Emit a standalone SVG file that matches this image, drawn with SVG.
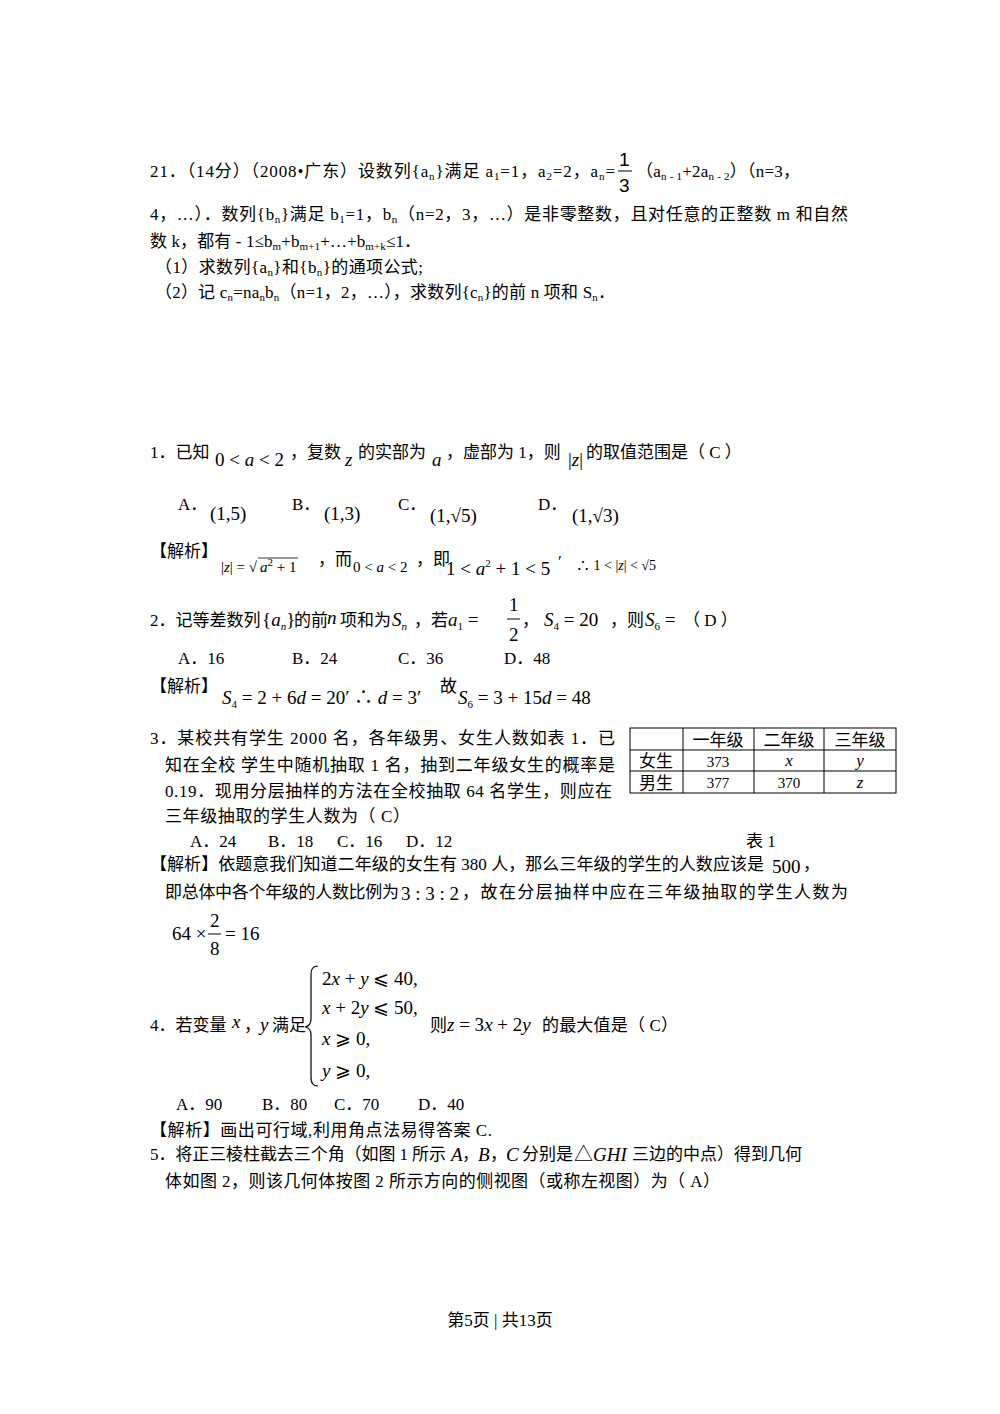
<svg xmlns="http://www.w3.org/2000/svg" width="1000" height="1414" viewBox="0 0 1000 1414">
<style>
text{font-family:"Liberation Serif","Noto Sans CJK SC",serif;font-size:17px;fill:#000}
.i{font-style:italic}
.s{font-size:11px}
.m{font-size:19px}
</style>
<rect width="1000" height="1414" fill="#fff"/>
<g id="q21">
<text x="150" y="177" textLength="465" lengthAdjust="spacing">21．（14分）（2008•广东）设数列{a<tspan class="s" dy="3">n</tspan><tspan dy="-3">}满足 a</tspan><tspan class="s" dy="3">1</tspan><tspan dy="-3">=1，a</tspan><tspan class="s" dy="3">2</tspan><tspan dy="-3">=2，a</tspan><tspan class="s" dy="3">n</tspan><tspan dy="-3">=</tspan></text>
<text x="619" y="166" style="font-family:'Liberation Sans',sans-serif;font-size:19px">1</text>
<line x1="618" y1="171" x2="632" y2="171" stroke="#000" stroke-width="1"/>
<text x="619" y="192" style="font-family:'Liberation Sans',sans-serif;font-size:19px">3</text>
<text x="636" y="177" textLength="164" lengthAdjust="spacing">（a<tspan class="s" dy="3">n - 1</tspan><tspan dy="-3">+2a</tspan><tspan class="s" dy="3">n - 2</tspan><tspan dy="-3">）（n=3，</tspan></text>
<text x="150" y="220" textLength="698" lengthAdjust="spacing">4，…）．数列{b<tspan class="s" dy="3">n</tspan><tspan dy="-3">}满足 b</tspan><tspan class="s" dy="3">1</tspan><tspan dy="-3">=1，b</tspan><tspan class="s" dy="3">n</tspan><tspan dy="-3">（n=2，3，…）是非零整数，且对任意的正整数 m 和自然</tspan></text>
<text x="150" y="247" textLength="271" lengthAdjust="spacing">数 k，都有 - 1≤b<tspan class="s" dy="3">m</tspan><tspan dy="-3">+b</tspan><tspan class="s" dy="3">m+1</tspan><tspan dy="-3">+…+b</tspan><tspan class="s" dy="3">m+k</tspan><tspan dy="-3">≤1．</tspan></text>
<text x="155" y="273" textLength="268" lengthAdjust="spacing">（1）求数列{a<tspan class="s" dy="3">n</tspan><tspan dy="-3">}和{b</tspan><tspan class="s" dy="3">n</tspan><tspan dy="-3">}的通项公式;</tspan></text>
<text x="155" y="298" textLength="460" lengthAdjust="spacing">（2）记 c<tspan class="s" dy="3">n</tspan><tspan dy="-3">=na</tspan><tspan class="s" dy="3">n</tspan><tspan dy="-3">b</tspan><tspan class="s" dy="3">n</tspan><tspan dy="-3">（n=1，2，…），求数列{c</tspan><tspan class="s" dy="3">n</tspan><tspan dy="-3">}的前 n 项和 S</tspan><tspan class="s" dy="3">n</tspan><tspan dy="-3">．</tspan></text>
</g>
<g id="q1">
<text x="150" y="458">1．已知</text>
<text x="215" y="466" class="m">0 &lt; <tspan class="i">a</tspan> &lt; 2</text>
<text x="290" y="458">，复数</text>
<text x="345" y="466" class="m i">z</text>
<text x="358" y="458">的实部为</text>
<text x="432" y="466" class="m i">a</text>
<text x="446" y="458">，虚部为 1，则</text>
<text x="568" y="466" class="m">|<tspan class="i">z</tspan>|</text>
<text x="586" y="458">的取值范围是（ C ）</text>
<text x="178" y="510">A．</text><text x="210" y="520" class="m">(1,5)</text>
<text x="292" y="510">B．</text><text x="324" y="520" class="m">(1,3)</text>
<text x="398" y="510">C．</text><text x="430" y="522" class="m">(1,√5)</text>
<text x="538" y="510">D．</text><text x="572" y="522" class="m">(1,√3)</text>
<text x="150" y="557">【解析】</text>
<text x="221" y="572" style="font-size:15px">|<tspan class="i">z</tspan>| = √</text>
<line x1="258" y1="558" x2="298" y2="558" stroke="#000" stroke-width="0.8"/>
<text x="260" y="572" style="font-size:15px"><tspan class="i">a</tspan><tspan class="s" dy="-6">2</tspan><tspan dy="6"> + 1</tspan></text>
<text x="318" y="565">，而</text>
<text x="353" y="572" style="font-size:15px">0 &lt; <tspan class="i">a</tspan> &lt; 2</text>
<text x="416" y="565">，即</text>
<text x="446" y="575" class="m">1 &lt; <tspan class="i">a</tspan><tspan class="s" dy="-8">2</tspan><tspan dy="8"> + 1 &lt; 5</tspan></text>
<text x="558" y="567">′</text>
<text x="576" y="570" style="font-size:14px">∴ 1 &lt; |<tspan class="i">z</tspan>| &lt; √5</text>
</g>
<g id="q2">
<text x="150" y="626">2．记等差数列</text>
<text x="262" y="626" class="m">{<tspan class="i">a</tspan><tspan class="s i" dy="4">n</tspan><tspan dy="-4">}</tspan></text>
<text x="294" y="626">的前</text>
<text x="327" y="624" class="m i">n</text>
<text x="340" y="626">项和为</text>
<text x="392" y="626" class="m i">S<tspan class="s" dy="4">n</tspan></text>
<text x="414" y="626">，若</text>
<text x="448" y="626" class="m"><tspan class="i">a</tspan><tspan class="s" dy="4">1</tspan><tspan dy="-4"> = </tspan></text>
<text x="509" y="611" class="m">1</text>
<line x1="507" y1="619" x2="520" y2="619" stroke="#000"/>
<text x="509" y="641" class="m">2</text>
<text x="522" y="626">，</text>
<text x="544" y="626" class="m"><tspan class="i">S</tspan><tspan class="s" dy="4">4</tspan><tspan dy="-4"> = 20</tspan></text>
<text x="610" y="626">，则</text>
<text x="645" y="626" class="m"><tspan class="i">S</tspan><tspan class="s" dy="4">6</tspan><tspan dy="-4"> =</tspan></text>
<text x="683" y="626">（ D ）</text>
<text x="178" y="664">A．16</text>
<text x="292" y="664">B．24</text>
<text x="398" y="664">C．36</text>
<text x="504" y="664">D．48</text>
<text x="150" y="692">【解析】</text>
<text x="222" y="704" class="m"><tspan class="i">S</tspan><tspan class="s" dy="4">4</tspan><tspan dy="-4"> = 2 + 6</tspan><tspan class="i">d</tspan> = 20′  ∴ <tspan class="i">d</tspan> = 3′</text>
<text x="440" y="692">故</text>
<text x="458" y="704" class="m"><tspan class="i">S</tspan><tspan class="s" dy="4">6</tspan><tspan dy="-4"> = 3 + 15</tspan><tspan class="i">d</tspan> = 48</text>
</g>
<g id="q3">
<text x="150" y="744" textLength="465" lengthAdjust="spacing">3．某校共有学生 2000 名，各年级男、女生人数如表 1．已</text>
<text x="165" y="771" textLength="450" lengthAdjust="spacing">知在全校 学生中随机抽取 1 名，抽到二年级女生的概率是</text>
<text x="165" y="797" textLength="447" lengthAdjust="spacing">0.19．现用分层抽样的方法在全校抽取 64 名学生，则应在</text>
<text x="165" y="822" textLength="245" lengthAdjust="spacing">三年级抽取的学生人数为（ C）</text>
<text x="190" y="847">A．24</text>
<text x="268" y="847">B．18</text>
<text x="337" y="847">C．16</text>
<text x="406" y="847">D．12</text>
<text x="746" y="847">表 1</text>
<text x="150" y="870" textLength="614" lengthAdjust="spacing">【解析】依题意我们知道二年级的女生有 380 人，那么三年级的学生的人数应该是</text>
<text x="772" y="873" class="m">500</text><text x="803" y="870">，</text>
<text x="165" y="898" textLength="234" lengthAdjust="spacing">即总体中各个年级的人数比例为</text>
<text x="401" y="900" class="m">3 : 3 : 2</text>
<text x="462" y="898" textLength="386" lengthAdjust="spacing">，故在分层抽样中应在三年级抽取的学生人数为</text>
<text x="172" y="940" class="m">64 ×</text>
<text x="210" y="927" class="m">2</text>
<line x1="208" y1="934" x2="221" y2="934" stroke="#000"/>
<text x="210" y="955" class="m">8</text>
<text x="225" y="940" class="m">= 16</text>
</g>
<g id="table1" fill="none" stroke="#000" stroke-width="1">
<rect x="630" y="728" width="266" height="65"/>
<line x1="630" y1="750" x2="896" y2="750"/>
<line x1="630" y1="771" x2="896" y2="771"/>
<line x1="683" y1="728" x2="683" y2="793"/>
<line x1="754" y1="728" x2="754" y2="793"/>
<line x1="824" y1="728" x2="824" y2="793"/>
</g>
<g id="table1-text" text-anchor="middle">
<text x="718" y="746">一年级</text><text x="789" y="746">二年级</text><text x="860" y="746">三年级</text>
<text x="656" y="767">女生</text><text x="718" y="767" style="font-size:15px">373</text><text x="789" y="766" class="i">x</text><text x="860" y="766" class="i">y</text>
<text x="656" y="789">男生</text><text x="718" y="788" style="font-size:15px">377</text><text x="789" y="788" style="font-size:15px">370</text><text x="860" y="788" class="i">z</text>
</g>
<g id="q4">
<text x="150" y="1031">4．若变量</text>
<text x="232" y="1028" class="m i">x</text>
<text x="244" y="1031">，</text>
<text x="260" y="1031" class="m i">y</text>
<text x="272" y="1031">满足</text>
<path d="M318 966 Q311 966 311 974 L311 1019 Q311 1026 305 1027 Q311 1028 311 1035 L311 1078 Q311 1086 318 1086" fill="none" stroke="#000" stroke-width="1.2"/>
<text x="322" y="985" class="m">2<tspan class="i">x</tspan> + <tspan class="i">y</tspan> ⩽ 40,</text>
<text x="322" y="1014" class="m"><tspan class="i">x</tspan> + 2<tspan class="i">y</tspan> ⩽ 50,</text>
<text x="322" y="1045" class="m"><tspan class="i">x</tspan> ⩾ 0,</text>
<text x="322" y="1077" class="m"><tspan class="i">y</tspan> ⩾ 0,</text>
<text x="430" y="1031">则</text>
<text x="447" y="1031" class="m"><tspan class="i">z</tspan> = 3<tspan class="i">x</tspan> + 2<tspan class="i">y</tspan></text>
<text x="542" y="1031" textLength="136" lengthAdjust="spacing">的最大值是（ C）</text>
<text x="176" y="1110">A．90</text>
<text x="262" y="1110">B．80</text>
<text x="334" y="1110">C．70</text>
<text x="418" y="1110">D．40</text>
<text x="150" y="1136" textLength="342" lengthAdjust="spacing">【解析】画出可行域,利用角点法易得答案 C.</text>
</g>
<g id="q5">
<text x="150" y="1160" textLength="296" lengthAdjust="spacing">5．将正三棱柱截去三个角（如图 1 所示</text>
<text x="451" y="1161" class="m i">A</text><text x="462" y="1160">，</text>
<text x="478" y="1161" class="m i">B</text><text x="490" y="1160">，</text>
<text x="506" y="1161" class="m i">C</text>
<text x="522" y="1160">分别是</text>
<text x="574" y="1161" class="m">△<tspan class="i">GHI</tspan></text>
<text x="632" y="1160">三边的中点）得到几何</text>
<text x="165" y="1187" textLength="555" lengthAdjust="spacing">体如图 2，则该几何体按图 2 所示方向的侧视图（或称左视图）为（ A）</text>
</g>
<text x="500" y="1326" text-anchor="middle">第5页 | 共13页</text>
</svg>
